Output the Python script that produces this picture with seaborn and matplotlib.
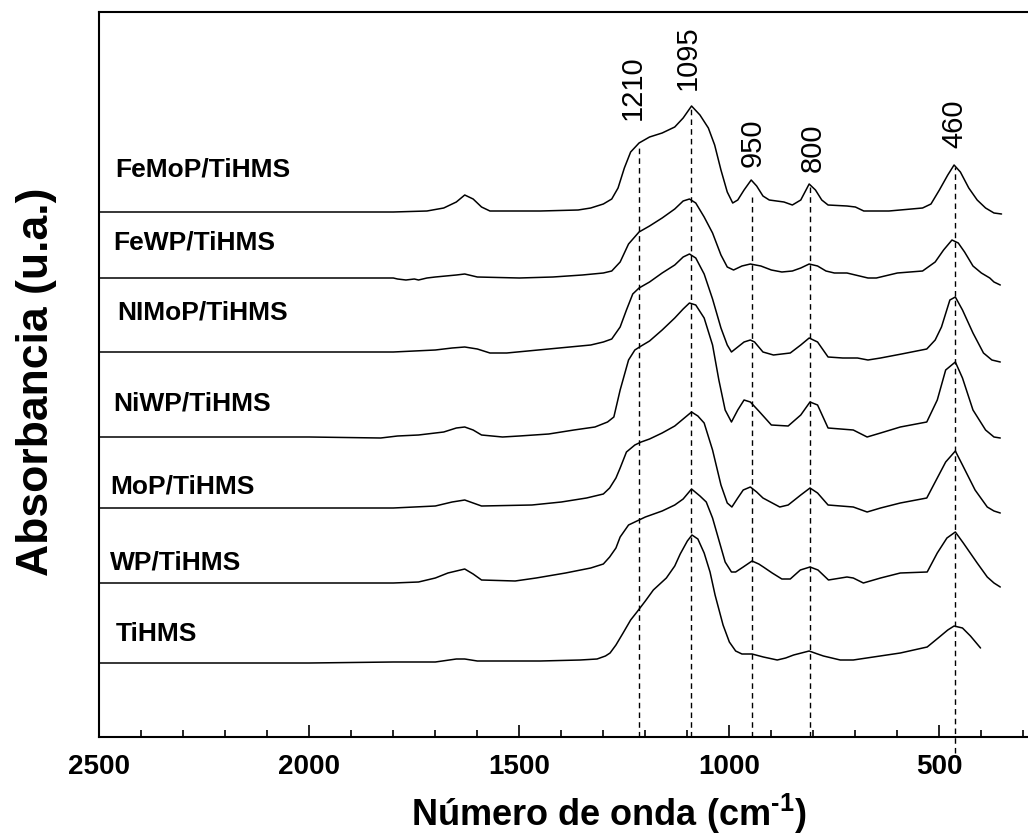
import matplotlib
matplotlib.use("Agg")
import matplotlib.pyplot as plt
from matplotlib.ticker import MultipleLocator
import numpy as np
import pandas as pd
import seaborn as sns

# ---------------- data (stacked absorbance, arbitrary units) ----------------
wn_femop = [2500, 2000, 1800, 1720, 1680, 1650, 1630, 1610, 1590, 1570, 1450, 1360, 1330, 1300, 1280,
            1265, 1250, 1235, 1215, 1190, 1160, 1130, 1110, 1090, 1070, 1050, 1035, 1020, 1005, 992,
            980, 965, 948, 935, 920, 905, 870, 850, 830, 810, 795, 780, 765, 720, 700, 680, 620, 540,
            520, 500, 480, 465, 450, 430, 410, 390, 370, 352]
a_femop = [525, 525, 525, 526, 529, 535, 542, 538, 530, 526, 526, 527, 529, 533, 538,
           549, 569, 585, 594, 600, 604, 610, 619, 631, 622, 609, 592, 567, 545, 534,
           537, 547, 557, 551, 541, 537, 535, 532, 537, 553, 547, 537, 532, 531, 530, 526, 526, 529,
           533, 547, 562, 572, 565, 549, 537, 529, 524, 523]

wn_fewp = [2500, 2000, 1800, 1790, 1770, 1750, 1740, 1720, 1700, 1650, 1630, 1600, 1500, 1420, 1350,
           1300, 1280, 1260, 1240, 1215, 1190, 1160, 1130, 1110, 1095, 1080, 1060, 1040, 1020, 1005,
           990, 970, 950, 925, 900, 875, 850, 830, 810, 790, 770, 750, 720, 700, 670, 650, 600, 540,
           510, 490, 470, 455, 440, 420, 400, 380, 370, 355]
a_fewp = [459, 459, 459, 458, 457, 458, 457, 459, 460, 462, 463, 460, 459, 460, 462,
          464, 466, 475, 493, 505, 511, 519, 528, 536, 538, 534, 520, 504, 482, 470,
          467, 471, 473, 471, 467, 465, 466, 469, 473, 471, 466, 464, 464, 462, 459, 459, 464, 466,
          475, 487, 497, 494, 485, 471, 464, 459, 455, 452]

wn_nimop = [2500, 2000, 1800, 1700, 1660, 1630, 1600, 1570, 1530, 1430, 1380, 1330, 1300, 1280, 1260,
            1245, 1230, 1215, 1190, 1160, 1130, 1110, 1095, 1080, 1060, 1040, 1020, 1005, 995, 980,
            965, 950, 940, 920, 895, 855, 830, 810, 790, 765, 730, 695, 670, 640, 590, 530, 510, 495,
            475, 462, 445, 420, 395, 375, 355]
a_nimop = [385, 385, 385, 387, 389, 390, 388, 384, 384, 388, 390, 392, 395, 398, 410,
           427, 443, 449, 455, 464, 472, 480, 483, 479, 463, 438, 409, 392, 385, 390,
           395, 397, 395, 385, 382, 384, 392, 399, 395, 380, 379, 379, 377, 379, 383, 388, 397, 410,
           437, 440, 427, 404, 384, 377, 375]

wn_niwp = [2500, 2000, 1830, 1790, 1740, 1680, 1650, 1630, 1610, 1590, 1540, 1500, 1430, 1370,
           1320, 1290, 1275, 1260, 1250, 1240, 1225, 1210, 1190, 1160, 1130, 1110, 1095, 1080, 1060,
           1040, 1025, 1010, 995, 980, 965, 950, 930, 900, 860, 830, 808, 790, 765, 705, 672, 640,
           593, 530, 505, 485, 462, 445, 420, 390, 370, 355]
a_niwp = [300, 300, 299, 301, 302, 305, 309, 310, 307, 302, 300, 301, 303, 307,
          310, 315, 320, 347, 362, 377, 387, 391, 396, 407, 419, 428, 434, 432, 419,
          392, 357, 327, 315, 327, 337, 335, 326, 312, 311, 322, 335, 332, 309, 307, 300, 304,
          310, 315, 337, 367, 375, 359, 327, 307, 300, 299]

wn_mop = [2500, 2000, 1800, 1700, 1660, 1630, 1610, 1590, 1470, 1400, 1340, 1300, 1285, 1270, 1260,
          1245, 1225, 1210, 1190, 1160, 1130, 1110, 1090, 1075, 1060, 1040, 1020, 1005, 994, 980,
          967, 950, 935, 920, 880, 860, 830, 808, 790, 765, 705, 672, 640, 593, 530, 505, 485, 462,
          445, 415, 386, 370, 355]
a_mop = [229, 229, 229, 231, 235, 237, 234, 231, 232, 235, 239, 243, 249, 259, 269,
         285, 292, 295, 298, 304, 311, 318, 325, 321, 314, 287, 252, 234, 230, 239,
         247, 250, 245, 239, 230, 232, 242, 249, 244, 232, 230, 225, 229, 234, 239, 259, 275, 286,
         272, 247, 230, 226, 224]

wn_wp = [2500, 2000, 1800, 1740, 1700, 1670, 1630, 1610, 1590, 1510, 1460, 1390, 1330, 1300, 1285,
         1270, 1260, 1240, 1220, 1200, 1160, 1130, 1110, 1090, 1070, 1055, 1040, 1025, 1010, 995,
         985, 967, 946, 930, 919, 898, 875, 855, 831, 808, 789, 764, 720, 705, 681, 640, 593, 529,
         505, 482, 462, 443, 410, 386, 370, 355]
a_wp = [154, 154, 154, 155, 159, 164, 168, 163, 157, 156, 159, 164, 169, 173, 180,
        189, 200, 212, 216, 220, 226, 232, 238, 248, 241, 235, 219, 197, 175, 165,
        165, 170, 176, 173, 170, 164, 158, 158, 167, 170, 167, 157, 160, 159, 154, 159, 164, 165,
        184, 199, 205, 194, 174, 160, 154, 150]

wn_tihms = [2500, 2000, 1800, 1700, 1650, 1630, 1600, 1450, 1355, 1315, 1295, 1284, 1270, 1253, 1235,
            1220, 1200, 1181, 1150, 1130, 1117, 1100, 1089, 1075, 1060, 1046, 1034, 1015, 1000, 985,
            970, 946, 919, 886, 866, 847, 810, 790, 776, 736, 705, 657, 593, 529, 500, 480, 465,
            445, 426, 402]
a_tihms = [74, 74, 75, 75, 78, 78, 76, 76, 77, 78, 81, 84, 92, 104, 117,
           125, 136, 147, 159, 171, 183, 196, 202, 198, 184, 165, 142, 112, 95, 86,
           83, 83, 80, 77, 79, 82, 86, 83, 81, 77, 77, 80, 84, 90, 100, 107, 111,
           109, 101, 89]

samples = ["FeMoP/TiHMS", "FeWP/TiHMS", "NIMoP/TiHMS", "NiWP/TiHMS", "MoP/TiHMS", "WP/TiHMS", "TiHMS"]
series_wn = [wn_femop, wn_fewp, wn_nimop, wn_niwp, wn_mop, wn_wp, wn_tihms]
series_a = [a_femop, a_fewp, a_nimop, a_niwp, a_mop, a_wp, a_tihms]

# sample label positions (wavenumber of left edge, level)
label_wn = [2463, 2467, 2458, 2467, 2474, 2474, 2460]
label_a = [568, 494, 425, 334, 250, 174, 103]

# marked bands
band_labels = ["1210", "1095", "950", "800", "460"]
band_wn = [1215, 1092, 946, 808, 463]
band_top = [592, 630, 540, 552, 570]
band_bottom = [0, 0, 0, 0, -16]
band_text_wn = [1230, 1098, 944, 801, 465]
band_text_a = [617, 647, 570, 565, 589]

xticks_major = [2500, 2000, 1500, 1000, 500]

# ---------------- figure ----------------
sns.set_theme(style="white")
plt.rcParams["font.family"] = ["Liberation Sans", "DejaVu Sans"]
plt.rcParams["mathtext.fontset"] = "custom"
plt.rcParams["mathtext.rm"] = "Liberation Sans:bold"
plt.rcParams["mathtext.default"] = "rm"

fig = plt.figure(figsize=(10.28, 8.4), dpi=100)
ax = fig.add_axes([99.3 / 1028, 103 / 840, (1028 - 99.3) / 1028, 725 / 840])

frames = []
for name, w, a in zip(samples, series_wn, series_a):
    frames.append(pd.DataFrame({"wn": w, "A": a, "sample": name}))
df = pd.concat(frames, ignore_index=True)

sns.lineplot(data=df, x="wn", y="A", hue="sample", palette={s: "black" for s in samples},
             estimator=None, sort=False, legend=False, linewidth=1.1, ax=ax)

for x, lo, hi in zip(band_wn, band_bottom, band_top):
    ax.plot([x, x], [lo, hi], color="black", linewidth=1.0, linestyle=(0, (4, 3)), clip_on=False)

for t, x, y in zip(band_labels, band_text_wn, band_text_a):
    ax.text(x, y, t, rotation=90, ha="center", va="bottom", fontsize=21, color="black")

for t, x, y in zip(samples, label_wn, label_a):
    ax.text(x, y, t, ha="left", va="center", fontsize=19, fontweight="bold", color="black")

ax.set_xlim(2500, 289)
ax.set_ylim(0, 725)
ax.set_xticks(xticks_major)
ax.set_xticklabels([str(v) for v in xticks_major])
ax.xaxis.set_minor_locator(MultipleLocator(100))
ax.set_yticks([])
ax.tick_params(axis="x", which="major", direction="in", length=9, width=1.2,
               labelsize=20, pad=12, bottom=True, top=False, colors="black")
ax.tick_params(axis="x", which="minor", direction="in", length=5, width=1.2,
               bottom=True, top=False, colors="black")
for lab in ax.get_xticklabels():
    lab.set_fontweight("bold")

for side in ["left", "bottom", "top"]:
    ax.spines[side].set_linewidth(1.5)
    ax.spines[side].set_color("black")
ax.spines["right"].set_visible(False)

ax.set_xlabel(r"Número de onda (cm$^{\text{-1}}$)", fontsize=26, fontweight="bold", color="black")
ax.xaxis.set_label_coords(0.549, -0.075)
ax.set_ylabel("Absorbancia (u.a.)", fontsize=32, fontweight="bold", color="black")
ax.yaxis.set_label_coords(-0.046, 0.49)

fig.savefig("out.png", dpi=100, facecolor="white")
